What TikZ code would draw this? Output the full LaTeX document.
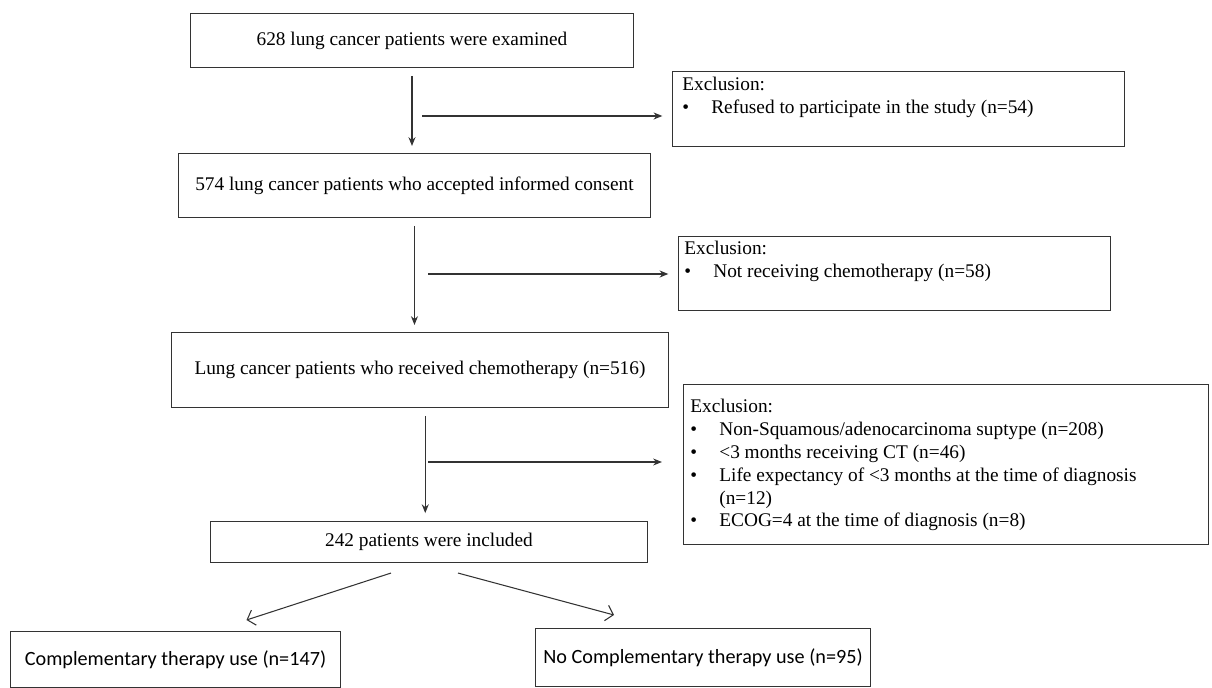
\documentclass[tikz,border=0pt]{standalone}
\usepackage{fontspec}
\setmainfont{Liberation Serif}
\newfontfamily\calfont{Carlito}
\usepackage{tikz}
\usetikzlibrary{arrows.meta}
\definecolor{linegray}{HTML}{333333}
\newcommand{\xitem}[1]{\makebox[0.58cm][l]{\textbullet}#1}
\newcommand{\xcont}[1]{\makebox[0.58cm][l]{}#1}

\begin{document}
\begin{tikzpicture}[x=0.02cm, y=-0.02cm,
  box/.style={draw=linegray, line width=0.6pt, anchor=north west, inner sep=0pt, align=center,
    font=\fontsize{11}{13}\selectfont},
  xtext/.style={anchor=north west, inner sep=0pt, align=left, font=\fontsize{11}{13}\selectfont},
  arr/.style={-{Stealth[length=5pt,width=4pt]}, line width=0.6pt, color=linegray},
  darr/.style={-{Straight Barb[length=4pt,width=9pt]}, line width=0.6pt, color=linegray}]
  \useasboundingbox (0,0) rectangle (1212,688);

  % main chain
  \node[box, minimum width=8.86cm, minimum height=1.08cm] (examined) at (190,13) {628 lung cancer patients were examined};
  \node[box, minimum width=9.44cm, minimum height=1.28cm] (consent) at (178,153) {574 lung cancer patients who accepted informed consent};
  \node[box, minimum width=9.94cm, minimum height=1.5cm] (chemo) at (171,332) {Lung cancer patients who received chemotherapy (n=516)};
  \node[box, minimum width=8.74cm, minimum height=0.82cm] (included) at (210,521) {242 patients were included};
  \node[box, minimum width=6.6cm, minimum height=1.12cm, font=\calfont\fontsize{11.5}{13}\selectfont] (ctuse) at (10,631) {Complementary therapy use (n=147)};
  \node[box, minimum width=6.7cm, minimum height=1.16cm, font=\calfont\fontsize{11.5}{13}\selectfont] (noctuse) at (535,628) {No Complementary therapy use (n=95)};

  % exclusion boxes
  \node[box, minimum width=9.04cm, minimum height=1.5cm] (exclA) at (672,71) {};
  \node[box, minimum width=8.64cm, minimum height=1.48cm] (exclB) at (678,236) {};
  \node[box, minimum width=10.5cm, minimum height=3.2cm] (exclC) at (683,384) {};

  \node[xtext] (exclAtxt) at ([shift={(10,6)}]exclA.north west) {Exclusion:\\
    \xitem{Refused to participate in the study (n=54)}};
  \node[xtext] (exclBtxt) at ([shift={(6,5)}]exclB.north west) {Exclusion:\\
    \xitem{Not receiving chemotherapy (n=58)}};
  \node[xtext] (exclCtxt) at ([shift={(7,15)}]exclC.north west) {Exclusion:\\
    \xitem{Non-Squamous/adenocarcinoma suptype (n=208)}\\
    \xitem{<3 months receiving CT (n=46)}\\
    \xitem{Life expectancy of <3 months at the time of diagnosis}\\
    \xcont{(n=12)}\\
    \xitem{ECOG=4 at the time of diagnosis (n=8)}};

  % flow arrows
  \draw[arr, shorten <=4.5pt, shorten >=4pt] (examined.south) -- (examined.south |- consent.north);
  \draw[arr, shorten <=4.5pt, shorten >=4pt] (consent.south) -- (consent.south |- chemo.north);
  \draw[arr, shorten <=4.5pt, shorten >=4.5pt] ([xshift=3pt]chemo.south) -- ([xshift=3pt]chemo.south |- included.north);

  \coordinate (hA) at (422,116);
  \coordinate (hB) at (428,274);
  \coordinate (hC) at (428,462);
  \draw[arr, shorten >=5.5pt] (hA) -- (hA -| exclA.west);
  \draw[arr, shorten >=5.5pt] (hB) -- (hB -| exclB.west);
  \draw[arr, shorten >=12pt] (hC) -- (hC -| exclC.west);

  % split
  \draw[darr] ([shift={(-38,10)}]included.south) -- ([shift={(71,-11)}]ctuse.north);
  \draw[darr] ([shift={(29,10)}]included.south) -- ([shift={(-89,-13)}]noctuse.north);
\end{tikzpicture}
\end{document}
